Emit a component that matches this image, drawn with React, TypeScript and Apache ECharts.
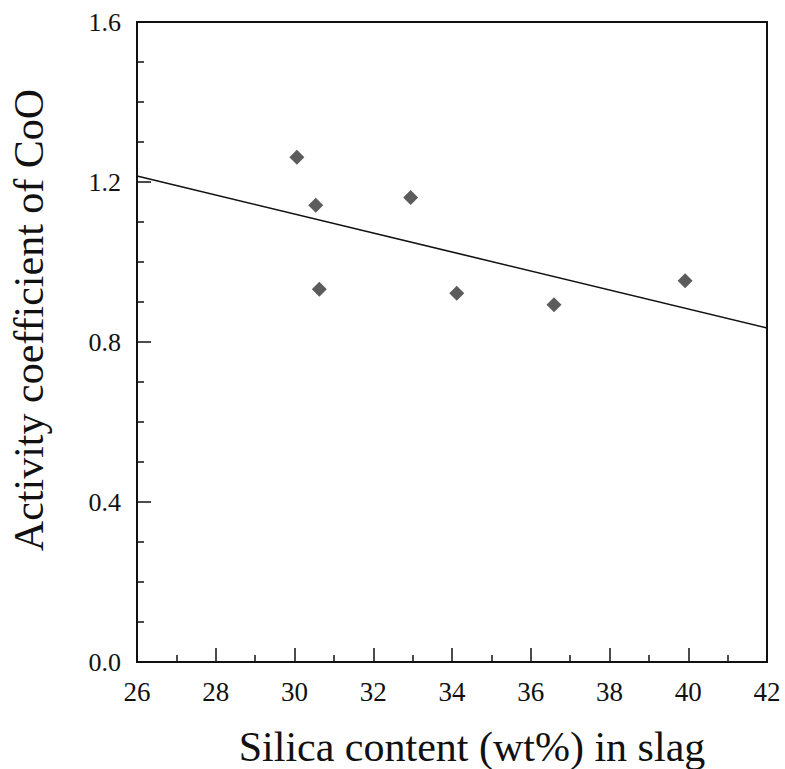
import React, { useEffect, useRef } from "react";
import * as echarts from "echarts";

const silica = [30.06, 30.54, 30.63, 32.95, 34.12, 36.59, 39.92];
const activity = [1.262, 1.142, 0.932, 1.161, 0.922, 0.893, 0.953];
const fitX = [26, 42];
const fitY = [1.215, 0.835];

const FONT = "'Liberation Serif', 'Times New Roman', serif";

export default function App() {
  const ref = useRef<HTMLDivElement>(null);
  useEffect(() => {
    if (!ref.current) return;
    const chart = echarts.init(ref.current, undefined, { renderer: "svg" });
    chart.setOption({
      animation: false,
      backgroundColor: "#ffffff",
      textStyle: { fontFamily: FONT },
      grid: {
        left: 137,
        top: 22,
        right: 18,
        bottom: 107,
        outerBoundsMode: "none",
        containLabel: false,
        show: true,
        borderColor: "#111",
        borderWidth: 2,
        backgroundColor: "transparent",
      },
      graphic: [
        {
          type: "text",
          x: 29,
          y: 320,
          rotation: Math.PI / 2,
          style: {
            text: "Activity coefficient of CoO",
            fontFamily: FONT,
            fontSize: 42,
            fill: "#111",
            align: "center",
            verticalAlign: "middle",
          },
        },
      ],
      xAxis: {
        type: "value",
        min: 26,
        max: 42,
        interval: 2,
        name: "Silica content (wt%) in slag",
        nameLocation: "middle",
        nameGap: 64,
        nameTextStyle: { fontFamily: FONT, fontSize: 42, color: "#111", padding: [0, 0, 0, 40] },
        axisLine: { show: true, lineStyle: { color: "#111", width: 2 } },
        axisTick: { show: true, inside: true, length: 14, lineStyle: { color: "#111", width: 1.5 } },
        minorTick: { show: true, splitNumber: 2, length: 7, lineStyle: { color: "#111", width: 1.5 } },
        splitLine: { show: false },
        axisLabel: { fontFamily: FONT, fontSize: 27, color: "#111", margin: 16 },
      },
      yAxis: {
        type: "value",
        min: 0,
        max: 1.6,
        interval: 0.4,
        axisLine: { show: true, lineStyle: { color: "#111", width: 2 } },
        axisTick: { show: true, inside: true, length: 14, lineStyle: { color: "#111", width: 1.5 } },
        minorTick: { show: true, splitNumber: 4, length: 7, lineStyle: { color: "#111", width: 1.5 } },
        splitLine: { show: false },
        axisLabel: {
          fontFamily: FONT,
          fontSize: 26,
          color: "#111",
          margin: 16,
          formatter: (v: number) => v.toFixed(1),
        },
      },
      series: [
        {
          type: "line",
          data: fitX.map((x, i) => [x, fitY[i]]),
          symbol: "none",
          lineStyle: { color: "#111", width: 1.6 },
          z: 2,
        },
        {
          type: "scatter",
          data: silica.map((x, i) => [x, activity[i]]),
          symbol: "diamond",
          symbolSize: [15, 15],
          itemStyle: { color: "#333" },
          z: 3,
        },
      ],
    });
    return () => chart.dispose();
  }, []);
  return (
    <div
      ref={ref}
      style={{ position: "fixed", left: 0, top: 0, width: 785, height: 769 }}
    />
  );
}
